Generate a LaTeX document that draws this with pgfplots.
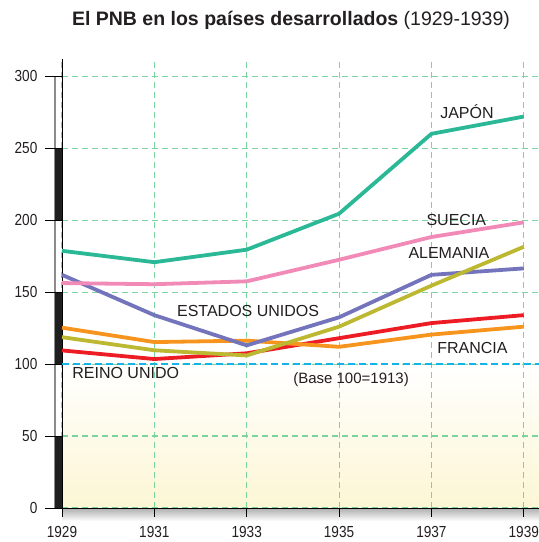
\documentclass[border=0pt]{standalone}
\usepackage{pgfplots}
\pgfplotsset{compat=1.18}
\usepackage{fontspec}
\setmainfont{Liberation Sans}
\newfontfamily\narrowfont{Liberation Sans}[FakeStretch=0.85]
\definecolor{japon}{HTML}{2BB896}
\definecolor{suecia}{HTML}{F28AB8}
\definecolor{eeuu}{HTML}{7474BC}
\definecolor{alemania}{HTML}{BDB832}
\definecolor{francia}{HTML}{F7941D}
\definecolor{reino}{HTML}{ED1C24}
\definecolor{gridgreen}{HTML}{7DD3A0}
\definecolor{baseblue}{HTML}{14B4E6}
\definecolor{txt}{HTML}{231F20}
\definecolor{paleyellow}{HTML}{FCF6D4}

\begin{document}
\begin{tikzpicture}
\begin{axis}[
  set layers,
  at={(0,0)}, anchor=south west,
  scale only axis, width=477bp, height=449bp,
  xmin=1929, xmax=1939.33, ymin=0, ymax=312,
  axis x line=bottom, axis y line=left,
  axis line style={-, black, line width=1bp},
  xtick={1929,1931,1933,1935,1937,1939},
  ytick={0,50,100,150,200,250,300},
  tick style={draw=none},
  grid=major,
  grid style={gridgreen, dash pattern=on 6bp off 4bp, line width=1.1bp},
  /pgf/number format/assume math mode=true,
  tick label style={font=\narrowfont\fontsize{16bp}{18bp}\selectfont, text=txt},
  xticklabel style={/pgf/number format/1000 sep={}, anchor=north, yshift=-13bp},
  yticklabel style={anchor=east, xshift=-19bp},
  clip=false,
  every axis plot/.append style={line width=3.8bp, no marks},
]
\begin{pgfonlayer}{axis background}
  \fill[bottom color=paleyellow, top color=white] (axis cs:1929,0) rectangle (axis cs:1939.33,100);
  \fill[top color=black!32, bottom color=white] (axis cs:1929,0) rectangle ([yshift=-13bp]axis cs:1939.33,0);
\end{pgfonlayer}

% left scale decoration
\draw[black!45, line width=1.3bp] ([xshift=-7bp]axis cs:1929,0) -- ([xshift=-7bp]axis cs:1929,300);
\fill[black!88] ([xshift=-7bp]axis cs:1929,0) rectangle (axis cs:1929,50);
\fill[black!88] ([xshift=-7bp]axis cs:1929,100) rectangle (axis cs:1929,150);
\fill[black!88] ([xshift=-7bp]axis cs:1929,200) rectangle (axis cs:1929,250);
\pgfplotsinvokeforeach{0,50,100,150,200,250,300}{
  \draw[black, line width=1bp] ([xshift=-17bp]axis cs:1929,#1) -- (axis cs:1929,#1);
}
\pgfplotsinvokeforeach{1929,1931,1933,1935,1937,1939}{
  \draw[black, line width=1bp] (axis cs:#1,0) -- ([yshift=-9bp]axis cs:#1,0);
}

% base line 100
\draw[baseblue, line width=1.6bp, dash pattern=on 7bp off 4bp] (axis cs:1929,100) -- (axis cs:1939.33,100);

\addplot[reino] coordinates {(1929,109.5) (1931,103.5) (1933,107.5) (1935,118) (1937,128.5) (1939,134)};
\addplot[francia] coordinates {(1929,125.3) (1931,115.3) (1933,116.3) (1935,112) (1937,120.5) (1939,126)};
\addplot[eeuu] coordinates {(1929,162) (1931,134) (1933,113) (1935,132.5) (1937,162) (1939,166.5)};
\addplot[alemania] coordinates {(1929,118.7) (1931,109.6) (1933,106) (1935,126) (1937,154.5) (1939,181.5)};
\addplot[suecia] coordinates {(1929,156.3) (1931,155.5) (1933,157.5) (1935,172.5) (1937,188.3) (1939,198.5)};
\addplot[japon] coordinates {(1929,178.7) (1931,170.8) (1933,179.5) (1935,204.5) (1937,260) (1939,272)};

\begin{scope}[every node/.style={font=\fontsize{16bp}{18bp}\selectfont, text=txt}]
\node at (axis cs:1937.77,275.2) {JAPÓN};
\node at (axis cs:1937.54,200.4) {SUECIA};
\node at (axis cs:1937.38,177.2) {ALEMANIA};
\node at (axis cs:1933.03,136.7) {ESTADOS UNIDOS};
\node at (axis cs:1937.89,111.5) {FRANCIA};
\node at (axis cs:1930.38,93.8) {REINO UNIDO};
\node[font=\fontsize{15bp}{17bp}\selectfont] at (axis cs:1935.26,89.2) {(Base 100=1913)};
\end{scope}
\end{axis}
\node[anchor=base, text=txt, font=\fontsize{19.5bp}{22bp}\selectfont] at (229bp,482bp)
  {\textbf{El PNB en los países desarrollados} (1929-1939)};
\pgfresetboundingbox
\useasboundingbox (-62bp,-34bp) rectangle (477bp,508bp);
\end{tikzpicture}
\end{document}
